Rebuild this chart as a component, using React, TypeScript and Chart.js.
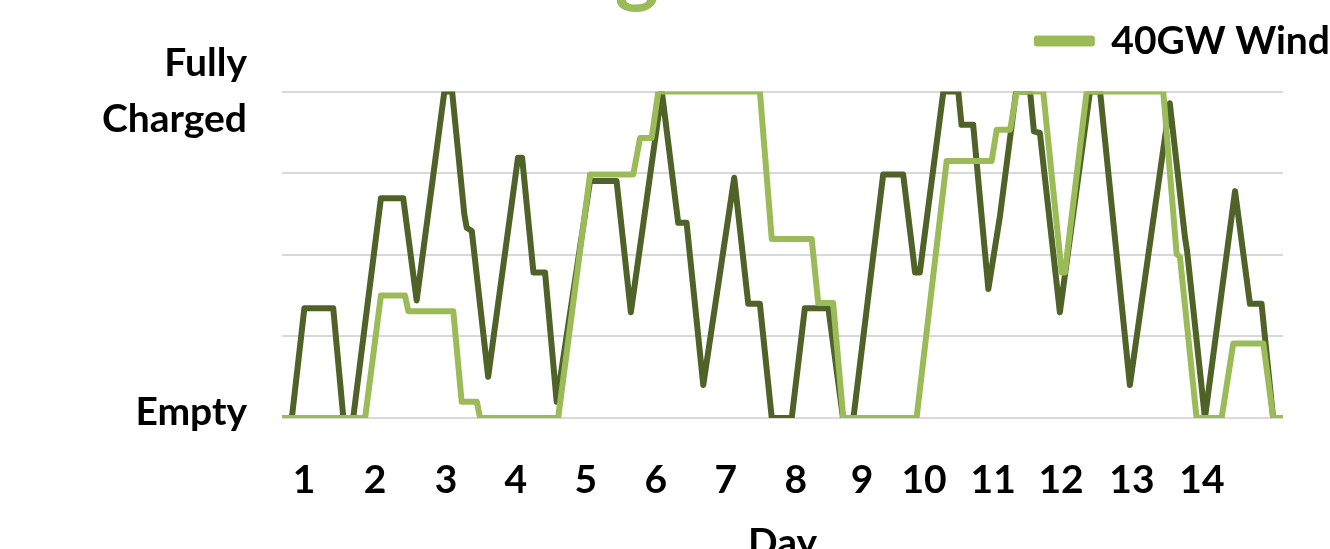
import React, { useEffect, useRef } from 'react';
import { Chart, registerables } from 'chart.js';

Chart.register(...registerables);

// ---- Data (hours since start of day 1, storage level in % of full) ----
const seriesNames = ['40GW Wind', '20GW Wind'];

const lightHours = [0, 27.9, 33.2, 41.3, 42.4, 57.5, 60.3, 65.4, 66.5, 92.7, 103.4, 117.9, 120.2, 124.1, 126.3, 160.4, 164.4, 177.8, 180.0, 185.0, 188.4, 213.0, 223.1, 238.2, 239.9, 244.4, 246.6, 255.5, 261.7, 262.8, 270.1, 295.8, 300.3, 301.4, 307.0, 315.4, 319.3, 329.4, 332.7, 336];
const lightLevels = [0, 0, 37.5, 37.5, 32.7, 32.7, 5.0, 5.0, 0, 0, 74.6, 74.6, 85.8, 85.8, 100, 100, 54.8, 54.8, 35.2, 35.2, 0, 0, 78.7, 78.7, 88.3, 88.3, 100, 100, 44.6, 44.6, 100, 100, 50.2, 49.4, 0, 0, 22.8, 22.8, 0, 0];

const darkHours = [0, 3.3, 7.5, 17.2, 20.6, 23.9, 33.2, 40.7, 45.2, 54.5, 57.1, 61.2, 62.0, 63.7, 69.2, 79.2, 80.6, 84.4, 88.3, 92.2, 103.4, 112.3, 117.1, 127.5, 133.0, 135.8, 141.4, 151.8, 156.5, 160.4, 164.4, 171.1, 175.5, 183.4, 188.3, 191.8, 201.8, 208.5, 212.5, 214.1, 216.9, 222.0, 227.0, 228.1, 232.0, 237.1, 241.0, 246.4, 251.1, 252.4, 254.4, 261.1, 271.2, 274.6, 284.6, 298.0, 303.1, 303.8, 309.8, 319.9, 324.9, 328.8, 332.7, 336];
const darkLevels = [0, 0, 33.6, 33.6, 0, 0, 67.3, 67.3, 36.0, 100, 100, 62.4, 58.3, 57.3, 12.6, 79.7, 79.7, 44.6, 44.6, 5.0, 72.6, 72.6, 32.4, 100, 59.8, 59.8, 10.1, 73.6, 35.0, 35.0, 0, 0, 33.6, 33.6, 0, 0, 74.6, 74.6, 44.6, 44.6, 64.4, 100, 100, 89.8, 89.8, 39.5, 61.9, 100, 100, 87.8, 87.3, 32.4, 100, 100, 10.1, 96.4, 55.3, 51.2, 0, 69.5, 35.0, 35.0, 0, 0];

const dayLabels = ['1', '2', '3', '4', '5', '6', '7', '8', '9', '10', '11', '12', '13', '14'];
const dayTickHours = [7.4, 31.2, 55.1, 78.5, 102.0, 125.5, 149.0, 172.5, 194.7, 215.5, 238.7, 261.5, 285.3, 308.8];

const yTickValues = [0, 25, 50, 75, 100];
const yFullLabel = ['Fully', 'Charged'];
const yEmptyLabel = ['Empty', ''];
const xAxisTitle = 'Day';
const chartTitle = 'Storage';

const LIGHT = '#9BBB59';
const DARK = '#4F6228';
const FONT_FAMILY = 'Lato, "Open Sans", "Noto Sans", sans-serif';
const W = 1340;
const H = 600;

const cutTitlePlugin = {
  id: 'cutTitle',
  afterDraw(chart: any) {
    const ctx = chart.ctx;
    ctx.save();
    ctx.font = `bold 84px ${FONT_FAMILY}`;
    ctx.fillStyle = LIGHT;
    ctx.textBaseline = 'alphabetic';
    const gi = chartTitle.indexOf('g');
    const pre = ctx.measureText(chartTitle.slice(0, gi)).width;
    const gw = ctx.measureText('g').width;
    ctx.fillText(chartTitle, 637 - pre - gw / 2, -4);
    ctx.restore();
  },
};

export default function App() {
  const ref = useRef<HTMLCanvasElement>(null);

  useEffect(() => {
    if (!ref.current) return;
    const font = { family: FONT_FAMILY, size: 39, weight: 'bold' as const };
    const chart = new Chart(ref.current, {
      type: 'line',
      data: {
        datasets: [
          {
            label: seriesNames[0],
            data: lightHours.map((h, i) => ({ x: h, y: lightLevels[i] })),
            borderColor: LIGHT,
            backgroundColor: LIGHT,
            borderWidth: 6,
            pointRadius: 0,
            tension: 0,
            borderJoinStyle: 'round',
            borderCapStyle: 'round',
          },
          {
            label: seriesNames[1],
            data: darkHours.map((h, i) => ({ x: h, y: darkLevels[i] })),
            borderColor: DARK,
            backgroundColor: DARK,
            borderWidth: 6,
            pointRadius: 0,
            tension: 0,
            borderJoinStyle: 'round',
            borderCapStyle: 'round',
          },
        ],
      },
      options: {
        responsive: false,
        maintainAspectRatio: false,
        animation: false,
        layout: { padding: { top: 11, left: 0, right: 0, bottom: 0 } },
        plugins: {
          legend: {
            display: true,
            position: 'top',
            align: 'end',
            labels: {
              filter: (item: any) => item.datasetIndex === 0,
              boxWidth: 55,
              boxHeight: 5,
              padding: 10,
              color: '#000',
              font,
            },
          },
          title: { display: false },
          tooltip: { enabled: false },
        },
        scales: {
          x: {
            type: 'linear',
            position: 'bottom',
            min: 0,
            max: 336,
            grid: { display: false },
            border: { display: false },
            afterBuildTicks: (s: any) => {
              s.ticks = dayTickHours.map((v) => ({ value: v }));
            },
            afterFit: (s: any) => {
              s.height = 182;
            },
            ticks: {
              autoSkip: false,
              maxRotation: 0,
              padding: 31,
              color: '#000',
              font,
              callback: (_v: any, i: number) => dayLabels[i],
            },
            title: {
              display: true,
              text: xAxisTitle,
              color: '#000',
              font,
              padding: { top: 0, bottom: 33 },
            },
          },
          xTop: {
            type: 'linear',
            position: 'top',
            min: 0,
            max: 336,
            grid: { display: false },
            border: { display: false },
            ticks: { display: false },
            afterFit: (s: any) => {
              s.height = 21;
            },
          },
          y: {
            type: 'linear',
            position: 'left',
            min: 0,
            max: 100,
            afterBuildTicks: (s: any) => {
              s.ticks = yTickValues.map((v) => ({ value: v }));
            },
            afterFit: (s: any) => {
              s.width = 282;
            },
            grid: { color: '#D9D9D9', lineWidth: 2, drawTicks: false },
            border: { display: false },
            ticks: {
              autoSkip: false,
              padding: 35,
              color: '#000',
              font: (ctx: any) => ({
                ...font,
                lineHeight: ctx.tick && ctx.tick.value === 0 ? '12px' : 1.45,
              }),
              callback: (v: any) => (v === 100 ? yFullLabel : v === 0 ? yEmptyLabel : ''),
            },
          },
          yRight: {
            type: 'linear',
            position: 'right',
            min: 0,
            max: 100,
            grid: { display: false },
            border: { display: false },
            ticks: { display: false },
            afterFit: (s: any) => {
              s.width = W - 1283;
            },
          },
        },
      } as any,
      plugins: [cutTitlePlugin],
    });
    return () => chart.destroy();
  }, []);

  return (
    <div
      style={{
        position: 'fixed',
        left: 0,
        top: 0,
        width: 1330,
        height: 549,
        overflow: 'hidden',
        background: '#fff',
      }}
    >
      <canvas ref={ref} width={W} height={H} style={{ display: 'block' }} />
    </div>
  );
}
